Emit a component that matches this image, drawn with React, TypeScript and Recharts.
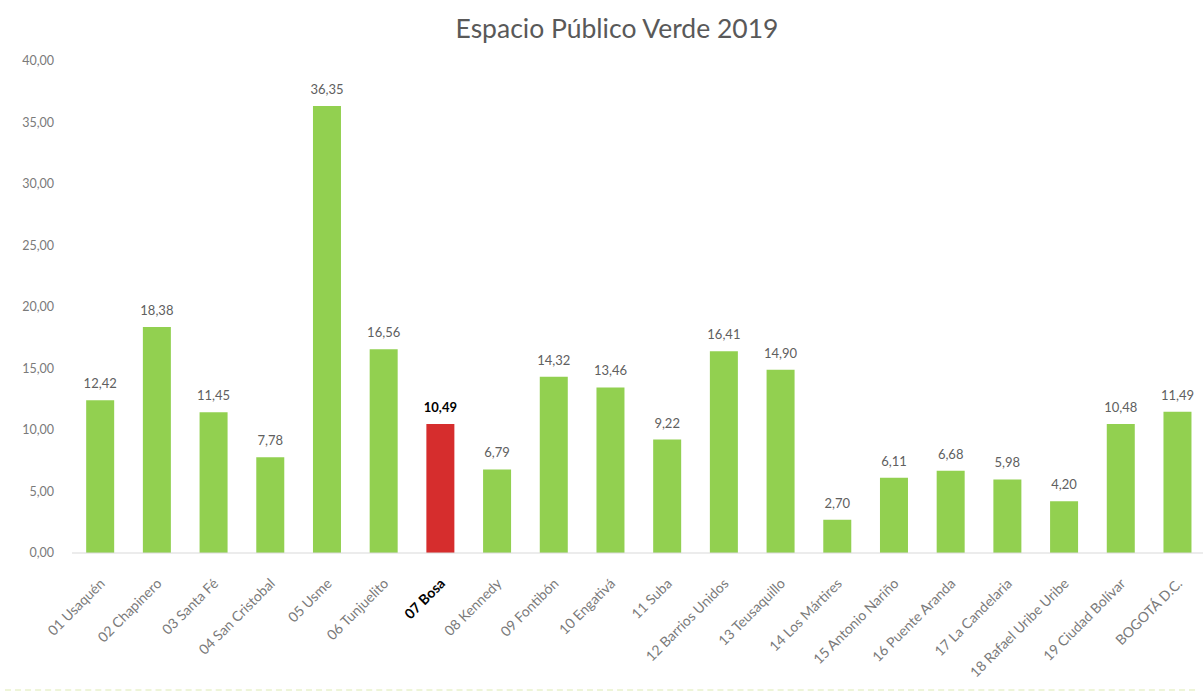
import React from "react";
import { BarChart, Bar, XAxis, YAxis, Cell, LabelList } from "recharts";

const categories = [
  "01 Usaquén", "02 Chapinero", "03 Santa Fé", "04 San Cristobal", "05 Usme",
  "06 Tunjuelito", "07 Bosa", "08 Kennedy", "09 Fontibón", "10 Engativá",
  "11 Suba", "12 Barrios Unidos", "13 Teusaquillo", "14 Los Mártires",
  "15 Antonio Nariño", "16 Puente Aranda", "17 La Candelaria",
  "18 Rafael Uribe Uribe", "19 Ciudad Bolívar", "BOGOTÁ D.C.",
];
const values = [
  12.42, 18.38, 11.45, 7.78, 36.35, 16.56, 10.49, 6.79, 14.32, 13.46,
  9.22, 16.41, 14.9, 2.7, 6.11, 6.68, 5.98, 4.2, 10.48, 11.49,
];
const yTicks = [0, 5, 10, 15, 20, 25, 30, 35, 40];
const highlighted = "07 Bosa";

const data = categories.map((name, i) => ({ name, value: values[i] }));

const fmt = (v: number) => v.toFixed(2).replace(".", ",");
const FONT = "Lato, 'Open Sans', sans-serif";

const XTick = (props: any) => {
  const { x, y, payload } = props;
  const bold = payload.value === highlighted;
  return (
    <g transform={`translate(${x + 2},${y + 20})`}>
      <text
        transform="rotate(-45)"
        textAnchor="end"
        dy="0.35em"
        fontFamily={FONT}
        fontSize={14}
        fontWeight={bold ? 700 : 400}
        fill={bold ? "#000000" : "#7a7a7a"}
      >
        {payload.value}
      </text>
    </g>
  );
};

const ValueLabel = (props: any) => {
  const { x, y, width, value, index } = props;
  const bold = categories[index] === highlighted;
  return (
    <text
      x={x + width / 2}
      y={y - 12}
      textAnchor="middle"
      fontFamily={FONT}
      fontSize={13}
      fontWeight={bold ? 700 : 400}
      fill={bold ? "#000000" : "#606060"}
    >
      {fmt(value)}
    </text>
  );
};

export default function App() {
  return (
    <div
      style={{
        position: "absolute",
        left: 0,
        top: 0,
        width: 1203,
        height: 696,
        overflow: "hidden",
        background: "#ffffff",
      }}
    >
      <div
        style={{
          position: "absolute",
          left: 0,
          top: 12,
          width: 1234,
          textAlign: "center",
          fontFamily: FONT,
          fontSize: 26.5,
          color: "#595959",
        }}
      >
        Espacio Público Verde 2019
      </div>
      <BarChart
        width={1210}
        height={696}
        data={data}
        margin={{ top: 61, right: 4, bottom: 0, left: 12 }}
        barCategoryGap="25%"
      >
        <XAxis
          dataKey="name"
          interval={0}
          height={143}
          tickLine={false}
          axisLine={{ stroke: "#d9d9d9" }}
          tick={<XTick />}
        />
        <YAxis
          domain={[0, 40]}
          ticks={yTicks}
          width={60}
          axisLine={false}
          tickLine={false}
          tickMargin={12}
          tickFormatter={fmt}
          tick={{ fontFamily: FONT, fontSize: 12.5, fill: "#7a7a7a" }}
        />
        <Bar dataKey="value" isAnimationActive={false}>
          {data.map((d) => (
            <Cell key={d.name} fill={d.name === highlighted ? "#d62d2d" : "#92d050"} />
          ))}
          <LabelList dataKey="value" content={<ValueLabel />} />
        </Bar>
      </BarChart>
      <div
        style={{
          position: "absolute",
          left: 5,
          top: 689,
          width: 1190,
          borderTop: "2px dashed #eef5d8",
        }}
      />
    </div>
  );
}
